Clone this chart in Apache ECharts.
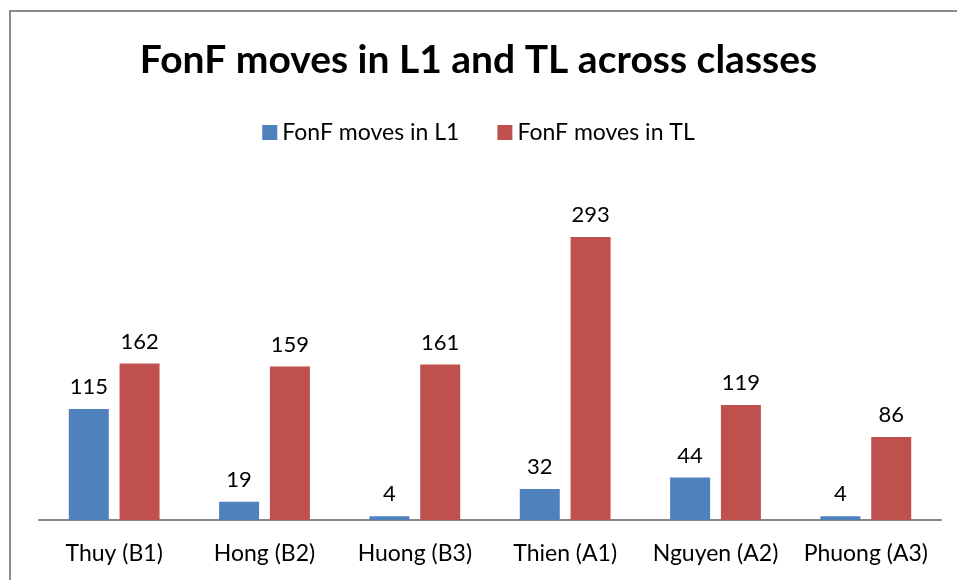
<!DOCTYPE html>
<html>
<head>
<meta charset="utf-8">
<script src="https://cdn.jsdelivr.net/npm/echarts@6/dist/echarts.min.js"></script>
<style>
  html, body { margin: 0; padding: 0; background: #fff; }
  #chart-container { width: 957px; height: 580px; }
</style>
</head>
<body>
<div id="chart-container"></div>
<script>
// Data
const classes = ['Thuy (B1)', 'Hong (B2)', 'Huong (B3)', 'Thien (A1)', 'Nguyen (A2)', 'Phuong (A3)'];
const movesL1 = [115, 19, 4, 32, 44, 4];
const movesTL = [162, 159, 161, 293, 119, 86];

const fontFamily = 'Lato, "Open Sans", sans-serif';

const myChart = echarts.init(document.getElementById('chart-container'));
myChart.setOption({
  animation: false,
  textStyle: { fontFamily: fontFamily },
  title: {
    text: 'FonF moves in L1 and TL across classes',
    left: 'center',
    top: 36,
    textStyle: { fontSize: 39, fontWeight: 'bold', color: '#000', fontFamily: fontFamily }
  },
  legend: {
    data: ['FonF moves in L1', 'FonF moves in TL'],
    top: 116,
    left: 'center',
    itemWidth: 15,
    itemHeight: 15,
    itemGap: 38,
    icon: 'rect',
    textStyle: { fontSize: 23, color: '#000', fontFamily: fontFamily }
  },
  graphic: [{
    type: 'rect',
    shape: { x: 10, y: 11, width: 1000, height: 1000 },
    style: { fill: 'none', stroke: '#8c8c8c', lineWidth: 2 },
    silent: true
  }],
  grid: {
    left: 39,
    right: 16,
    top: 182,
    bottom: 60
  },
  xAxis: {
    type: 'category',
    data: classes,
    axisLine: { lineStyle: { color: '#868686', width: 2 } },
    axisTick: { show: false },
    axisLabel: { interval: 0, fontSize: 23, color: '#000', margin: 22, fontFamily: fontFamily }
  },
  yAxis: {
    type: 'value',
    min: 0,
    max: 350,
    show: false,
    splitLine: { show: false }
  },
  series: [
    {
      name: 'FonF moves in L1',
      type: 'bar',
      data: movesL1,
      barWidth: 40,
      barGap: '27%',
      itemStyle: { color: '#4F81BD' },
      label: { show: true, position: 'top', distance: 11, fontSize: 22, color: '#000', fontFamily: fontFamily }
    },
    {
      name: 'FonF moves in TL',
      type: 'bar',
      data: movesTL,
      barWidth: 40,
      itemStyle: { color: '#C0504D' },
      label: { show: true, position: 'top', distance: 11, fontSize: 22, color: '#000', fontFamily: fontFamily }
    }
  ]
});
</script>
</body>
</html>
